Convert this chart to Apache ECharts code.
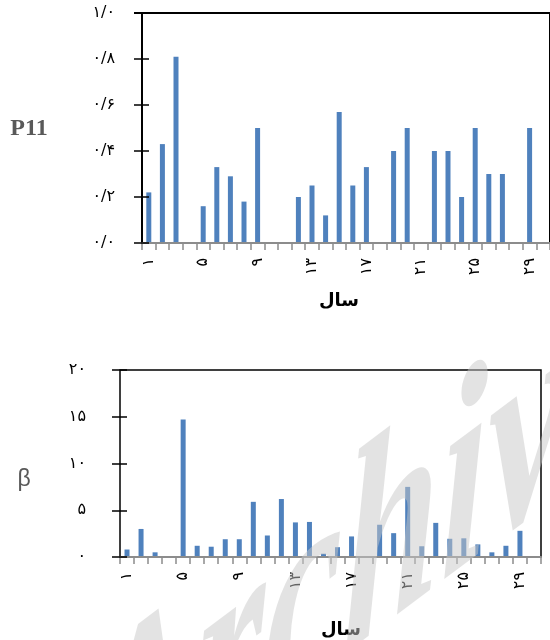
<!DOCTYPE html>
<html><head><meta charset="utf-8">
<script src="https://cdn.jsdelivr.net/npm/echarts@6/dist/echarts.min.js"></script>
<style>html,body{margin:0;padding:0;background:#fff}#c{width:550px;height:640px}</style>
</head><body><div id="c"></div>
<script>
const years = ['۱','۲','۳','۴','۵','۶','۷','۸','۹','۱۰','۱۱','۱۲','۱۳','۱۴','۱۵','۱۶','۱۷','۱۸','۱۹','۲۰','۲۱','۲۲','۲۳','۲۴','۲۵','۲۶','۲۷','۲۸','۲۹','۳۰'];
const p11 = [0.22,0.43,0.81,0,0.16,0.33,0.29,0.18,0.50,0,0,0.20,0.25,0.12,0.57,0.25,0.33,0,0.40,0.50,0,0.40,0.40,0.20,0.50,0.30,0.30,0,0.50,0];
const beta = [0.8,3.0,0.5,0,14.7,1.2,1.1,1.9,1.9,5.9,2.3,6.2,3.7,3.75,0.35,1.05,2.2,0,3.45,2.55,7.5,1.15,3.65,1.95,2.0,1.35,0.5,1.2,2.8,0];
const p11Ticks = ['۰/۰','۰/۲','۰/۴','۰/۶','۰/۸','۱/۰'];
const betaTicks = ['۰','۵','۱۰','۱۵','۲۰'];

const FA = 'DejaVu Sans';
const BAR = '#4f81bd';
const GREY = '#8c8c8c';

function catAxis(gi) {
  return {
    type: 'category', gridIndex: gi, data: years, position: 'bottom',
    axisLine: { show: true, onZero: false, lineStyle: { color: GREY, width: 2 } },
    axisTick: { show: true, interval: 0, length: 7, lineStyle: { color: GREY, width: 1.5 } },
    axisLabel: { interval: 3, rotate: 90, margin: 15, fontSize: 16, color: '#000', fontFamily: FA },
    splitLine: { show: false }, z: 4
  };
}
// single y axis per grid, shifted 7px into the plot so its 15px ticks cross the frame line
function valAxis(gi, max, interval, ticks, margin) {
  return {
    type: 'value', gridIndex: gi, min: 0, max: max, interval: interval, position: 'left', offset: -7,
    axisLine: { show: false, onZero: false },
    axisTick: { show: true, inside: false, length: 15, lineStyle: { color: '#000', width: 1.5 } },
    axisLabel: { show: true, margin: margin, fontSize: 16, color: '#000', fontFamily: FA,
      formatter: function (v) { return ticks[Math.round(v / interval)]; } },
    splitLine: { show: false }, z: 5
  };
}

const option = {
  animation: false,
  backgroundColor: '#fff',
  grid: [
    { left: 142, top: 13, width: 409, height: 230, show: true, borderColor: '#000', borderWidth: 2, backgroundColor: 'transparent' },
    { left: 120, top: 370, width: 421, height: 187, show: true, borderColor: '#000', borderWidth: 1.5, backgroundColor: 'transparent' }
  ],
  xAxis: [catAxis(0), catAxis(1)],
  yAxis: [
    valAxis(0, 1, 0.2, p11Ticks, 34),
    valAxis(1, 20, 5, betaTicks, 41)
  ],
  series: [
    { type: 'bar', xAxisIndex: 0, yAxisIndex: 0, data: p11, barWidth: 5, itemStyle: { color: BAR }, silent: true },
    { type: 'bar', xAxisIndex: 1, yAxisIndex: 1, data: beta, barWidth: 5, itemStyle: { color: BAR }, silent: true }
  ],
  graphic: [
    { type: 'text', x: 29, y: 129, style: { text: 'P11', font: 'bold 24px "Liberation Serif"', fill: '#595959', align: 'center', verticalAlign: 'middle' } },
    { type: 'text', x: 24, y: 480, style: { text: 'β', font: '23px "Liberation Sans"', fill: '#595959', align: 'center', verticalAlign: 'middle' } },
    { type: 'text', x: 339, y: 301, style: { text: 'سال', font: 'bold 18px "DejaVu Sans"', fill: '#000', align: 'center', verticalAlign: 'middle' } },
    { type: 'text', x: 341, y: 630, style: { text: 'سال', font: 'bold 18px "DejaVu Sans"', fill: '#000', align: 'center', verticalAlign: 'middle' } },
    { type: 'text', x: 80, y: 920, skewY: 0.6435, scaleX: 1.0, scaleY: 1.6, z: 100, silent: true,
      style: { text: 'Archive', font: 'italic bold 175px "Liberation Serif"', fill: 'rgba(200,200,200,0.5)', align: 'left', verticalAlign: 'bottom' } }
  ]
};
const chart = echarts.init(document.getElementById('c'), null, { renderer: 'canvas' });
chart.setOption(option);
// top frame line of the upper chart, placed at the y-axis maximum via the library's scale
let yTop = chart.convertToPixel({ gridIndex: 0 }, [0, 1]);
yTop = (yTop && isFinite(yTop[1])) ? yTop[1] : 13;
chart.setOption({ graphic: [
  { id: 'topframe', type: 'rect', z: 200, silent: true,
    shape: { x: 134, y: yTop - 1, width: 418, height: 2 },
    style: { fill: '#000' } }
] });
</script></body></html>
